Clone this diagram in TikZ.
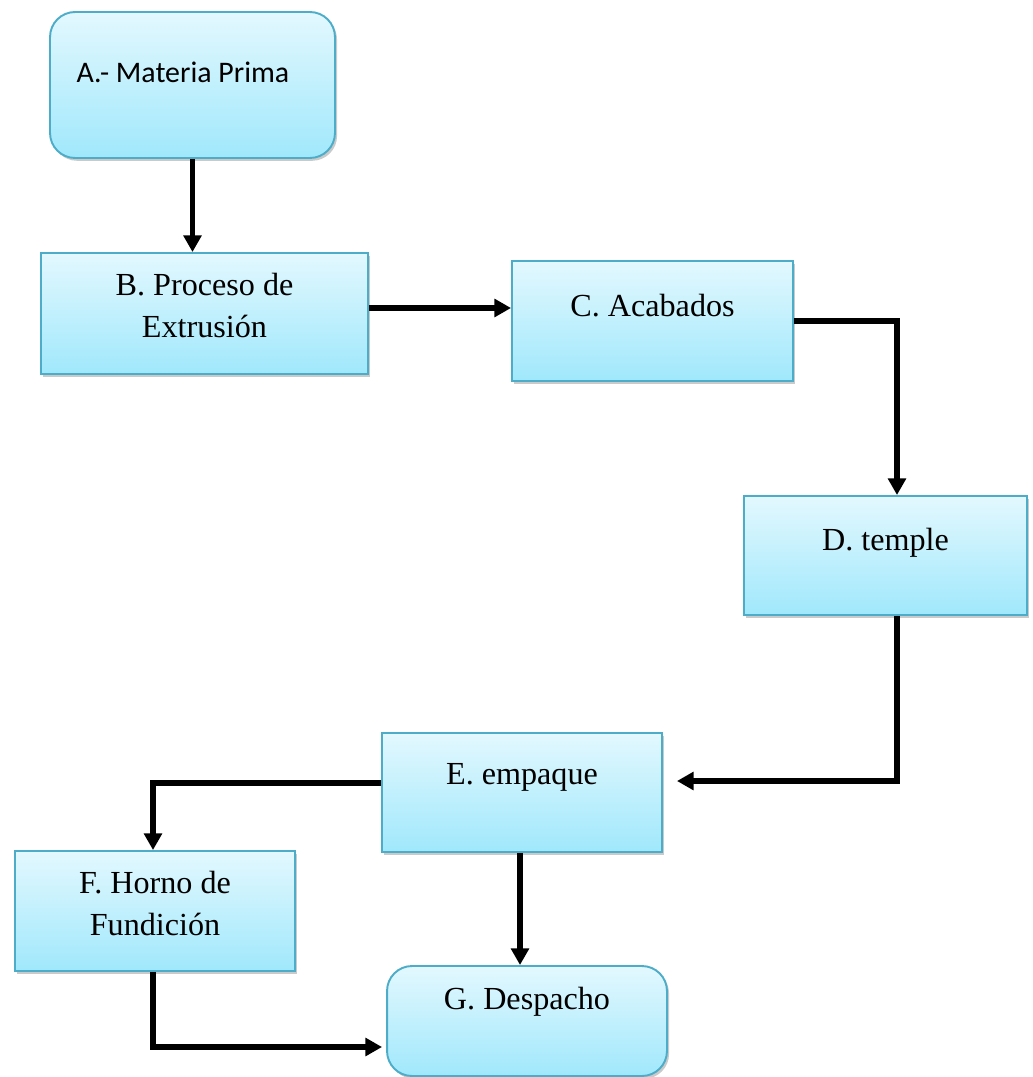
\documentclass[tikz,border=0pt]{standalone}
\usepackage{fontspec}
\setmainfont{Liberation Serif}
\newfontfamily\calibri{Carlito}
\usetikzlibrary{positioning,arrows.meta,calc,shadows}
\definecolor{boxtop}{HTML}{E3F8FE}
\definecolor{boxbot}{HTML}{A0E8FC}
\definecolor{boxline}{HTML}{4DADC8}
\definecolor{ink}{HTML}{000000}

\begin{document}
\begin{tikzpicture}[x=0.02cm, y=-0.02cm,
    stage/.style={draw=boxline, line width=1.1pt, top color=boxtop, bottom color=boxbot,
      drop shadow={shadow xshift=1.2pt, shadow yshift=-1.6pt, opacity=0.35, fill=black!60},
      inner sep=0pt},
    stagerd/.style={stage, rounded corners=0.5cm},
    lbl/.style={font=\fontsize{18.3}{24}\selectfont, align=center, text=ink},
    flow/.style={draw=ink, line width=3.3pt, -{Triangle[length=9.5pt,width=10pt]}}]
  \useasboundingbox (0,0) rectangle (1032,1077);
  % boxes
  \node[stagerd, minimum width=5.7cm, minimum height=2.92cm] (a) at (192.5,85) {};
  \node[stage, minimum width=6.54cm, minimum height=2.42cm] (b) at (204.5,313.5) {};
  \node[stage, minimum width=5.62cm, minimum height=2.4cm] (c) at (652.5,321) {};
  \node[stage, minimum width=5.66cm, minimum height=2.38cm] (d) at (885.5,555.5) {};
  \node[stage, minimum width=5.6cm, minimum height=2.38cm] (e) at (522,792.5) {};
  \node[stage, minimum width=5.6cm, minimum height=2.4cm] (f) at (155,911) {};
  \node[stagerd, minimum width=5.6cm, minimum height=2.2cm] (g) at (527,1021) {};
  % texts
  \node[lbl, font=\calibri\fontsize{17}{20}\selectfont] (ta) at (183,72) {A.- Materia Prima};
  \node[lbl] (tb) at ([yshift=-0.29cm]b.north) [below] {B. Proceso de\\ Extrusión};
  \node[lbl] (tc) at ([yshift=0.3cm]c.center) {C. Acabados};
  \node[lbl] (td) at ([yshift=0.25cm]d.center) {D. temple};
  \node[lbl] (te) at ([yshift=0.3cm]e.center) {E. empaque};
  \node[lbl] (tf) at ([yshift=-0.29cm]f.north) [below] {F. Horno de\\ Fundición};
  \node[lbl] (tg) at ([yshift=0.38cm]g.center) {G. Despacho};
  % connectors
  \draw[flow] (a.south) -- (a.south |- b.north);
  \draw[flow] ([yshift=0.11cm]b.east) -- ([yshift=0.11cm]b.east -| c.west);
  \draw[flow] (c.east) -| ([xshift=0.23cm]d.north);
  \draw[flow] ([xshift=0.23cm]d.south) |- ([xshift=0.28cm,yshift=0.23cm]e.east);
  \draw[flow] ([yshift=0.19cm]e.west) -| ([xshift=-0.04cm]f.north);
  \draw[flow] ([xshift=-0.04cm]e.south) -- ([xshift=-0.04cm]e.south |- g.north);
  \draw[flow] ([xshift=-0.04cm]f.south) |- ([xshift=-0.08cm,yshift=-0.52cm]g.west);
\end{tikzpicture}
\end{document}
